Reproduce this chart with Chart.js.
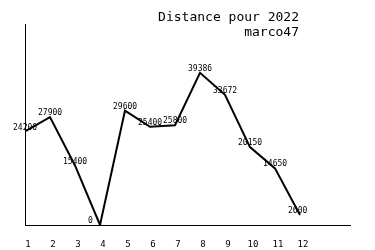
<!DOCTYPE html>
<html>
<head>
<meta charset="utf-8">
<script src="https://cdn.jsdelivr.net/npm/chart.js@4"></script>
<style>
  html, body { margin: 0; padding: 0; background: #fff; }
  canvas { display: block; }
</style>
</head>
<body>
<canvas id="distChart" width="375" height="250"></canvas>
<script>
// data
const months = [1, 2, 3, 4, 5, 6, 7, 8, 9, 10, 11, 12];
const distances = [24200, 27900, 15400, 0, 29600, 25400, 25800, 39386, 33672, 20150, 14650, 2600];
const titleLines = ['Distance pour 2022', 'marco47'];

const MONO = "'DejaVu Sans Mono', monospace";

// values written next to each point
const pointLabels = {
    id: 'pointLabels',
    afterDatasetsDraw(chart) {
        const ctx = chart.ctx;
        const meta = chart.getDatasetMeta(0);
        ctx.save();
        ctx.font = '8px ' + MONO;
        ctx.fillStyle = '#000';
        ctx.textAlign = 'left';
        ctx.textBaseline = 'middle';
        meta.data.forEach((pt, i) => {
            ctx.fillText(String(distances[i]), pt.x - 12, pt.y - 4);
        });
        ctx.restore();
    }
};

// title in the upper right
const topTitle = {
    id: 'topTitle',
    afterDraw(chart) {
        const ctx = chart.ctx;
        ctx.save();
        ctx.font = '13px ' + MONO;
        ctx.fillStyle = '#000';
        ctx.textAlign = 'right';
        ctx.textBaseline = 'middle';
        ctx.fillText(titleLines[0], 299, 18);
        ctx.fillText(titleLines[1], 299, 33);
        ctx.restore();
    }
};

new Chart(document.getElementById('distChart').getContext('2d'), {
    type: 'line',
    data: {
        datasets: [{
            data: months.map((m, i) => ({ x: m, y: distances[i] })),
            borderColor: '#000',
            borderWidth: 2,
            pointRadius: 0,
            tension: 0,
            fill: false
        }]
    },
    options: {
        responsive: false,
        animation: false,
        layout: { padding: { top: 24, left: 0, right: 25, bottom: 0 } },
        plugins: {
            legend: { display: false },
            tooltip: { enabled: false }
        },
        scales: {
            x: {
                type: 'linear',
                min: 1,
                max: 14,
                afterFit(scale) { scale.height = 25; },
                grid: { display: false, drawTicks: false },
                border: { display: true, color: '#000', width: 1 },
                ticks: {
                    stepSize: 1,
                    autoSkip: false,
                    maxRotation: 0,
                    labelOffset: 3,
                    padding: 14,
                    color: '#000',
                    font: { family: MONO, size: 9 },
                    callback: v => (v <= 12 ? String(v) : '')
                }
            },
            y: {
                min: 0,
                max: 52000,
                afterFit(scale) { scale.width = 25; },
                grid: { display: false, drawTicks: false },
                border: { display: true, color: '#000', width: 1 },
                ticks: { display: false }
            }
        }
    },
    plugins: [pointLabels, topTitle]
});
</script>
</body>
</html>
